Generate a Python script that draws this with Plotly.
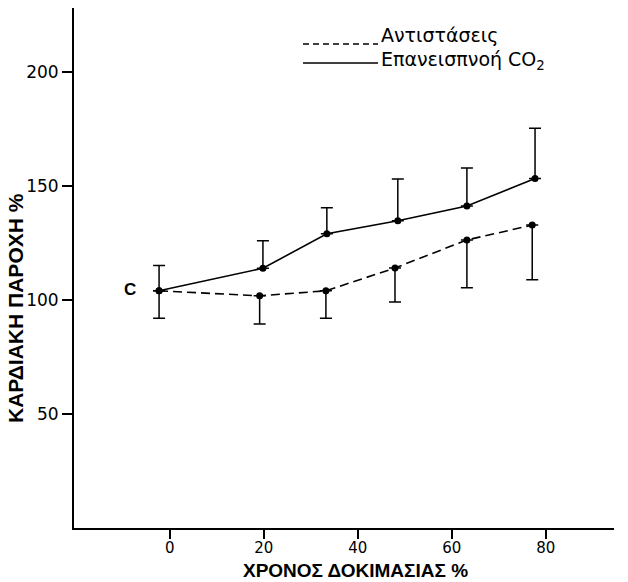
import plotly.graph_objects as go

# Data
x_co2 = [-2.3, 19.8, 33.4, 48.5, 63.2, 77.7]
y_co2 = [104, 113.9, 129, 134.7, 141.2, 153.2]
top_co2 = [115.1, 125.9, 140.4, 153, 157.9, 175.3]

x_res = [-2.3, 19.1, 33.2, 47.9, 63.2, 77.1]
y_res = [104, 101.8, 104, 114, 126.3, 132.8]
bot_res = [92, 89.5, 92, 99.1, 105.3, 108.8]

x_ticks = [0, 20, 40, 60, 80]
y_ticks = [50, 100, 150, 200]

name_res = "Αντιστάσεις"
name_co2 = "Επανεισπνοή CO<sub>2</sub>"

err_up_co2 = [t - v for t, v in zip(top_co2, y_co2)]
err_dn_res = [v - b for v, b in zip(y_res, bot_res)]
err_dn_co2 = [0] * len(y_co2)
err_up_res = [0] * len(y_res)

fig = go.Figure()
fig.add_trace(go.Scatter(
    x=x_res, y=y_res, mode="lines+markers", name=name_res,
    line=dict(color="black", width=1.6, dash="9px,5px"),
    marker=dict(color="black", size=7),
    error_y=dict(type="data", symmetric=False, array=err_up_res, arrayminus=err_dn_res,
                 color="black", thickness=1.5, width=6),
))
fig.add_trace(go.Scatter(
    x=x_co2, y=y_co2, mode="lines+markers", name=name_co2,
    line=dict(color="black", width=1.6),
    marker=dict(color="black", size=7),
    error_y=dict(type="data", symmetric=False, array=err_up_co2, arrayminus=err_dn_co2,
                 color="black", thickness=1.5, width=6),
))

L, R, T, B = 74, 14, 8, 54
W, H = 628, 582
pw, ph = W - L - R, H - T - B

def px(xp):
    return (xp - L) / pw

def py(yp):
    return (H - B - yp) / ph

fig.update_layout(
    width=W, height=H,
    margin=dict(l=L, r=R, t=T, b=B),
    paper_bgcolor="white", plot_bgcolor="white",
    showlegend=False,
    font=dict(family="DejaVu Sans", color="black"),
    xaxis=dict(range=[-20.4, 94.5], tickvals=x_ticks, ticktext=[str(v) for v in x_ticks],
               showgrid=False, zeroline=False, showline=True, linecolor="black", linewidth=2,
               ticks="outside", ticklen=9, tickwidth=1.5, tickcolor="black",
               ticklabelstandoff=-4,
               tickfont=dict(size=15, family="DejaVu Sans")),
    yaxis=dict(range=[0, 228], tickvals=y_ticks, ticktext=[str(v) for v in y_ticks],
               showgrid=False, zeroline=False, showline=True, linecolor="black", linewidth=2,
               ticks="outside", ticklen=10, tickwidth=1.5, tickcolor="black",
               tickfont=dict(size=17, family="DejaVu Sans")),
)

# Hand-drawn style legend
fig.add_shape(type="line", xref="paper", yref="paper", x0=px(303), x1=px(378), y0=py(44), y1=py(44),
              line=dict(color="black", width=1.5, dash="6px,4px"))
fig.add_shape(type="line", xref="paper", yref="paper", x0=px(303), x1=px(378), y0=py(63), y1=py(63),
              line=dict(color="black", width=1.5))
fig.add_annotation(xref="paper", yref="paper", x=px(379), y=py(35), text=name_res, showarrow=False,
                   xanchor="left", yanchor="middle", font=dict(size=19, family="DejaVu Sans"))
fig.add_annotation(xref="paper", yref="paper", x=px(379), y=py(61), text=name_co2, showarrow=False,
                   xanchor="left", yanchor="middle", font=dict(size=19, family="DejaVu Sans"))

# Control label
fig.add_annotation(xref="paper", yref="paper", x=px(130), y=py(289), text="<b>C</b>", showarrow=False,
                   xanchor="center", yanchor="middle", font=dict(size=17, family="Liberation Sans"))

# Axis titles
fig.add_annotation(xref="paper", yref="paper", x=px(355), y=py(570), text="<b>ΧΡΟΝΟΣ ΔΟΚΙΜΑΣΙΑΣ %</b>",
                   showarrow=False, xanchor="center", yanchor="middle",
                   font=dict(size=19, family="Liberation Sans"))
fig.add_annotation(xref="paper", yref="paper", x=px(15), y=py(308), text="<b>ΚΑΡΔΙΑΚΗ ΠΑΡΟΧΗ %</b>",
                   showarrow=False, textangle=-90, xanchor="center", yanchor="middle",
                   font=dict(size=21, family="Liberation Sans"))

fig.write_html("out.html")
